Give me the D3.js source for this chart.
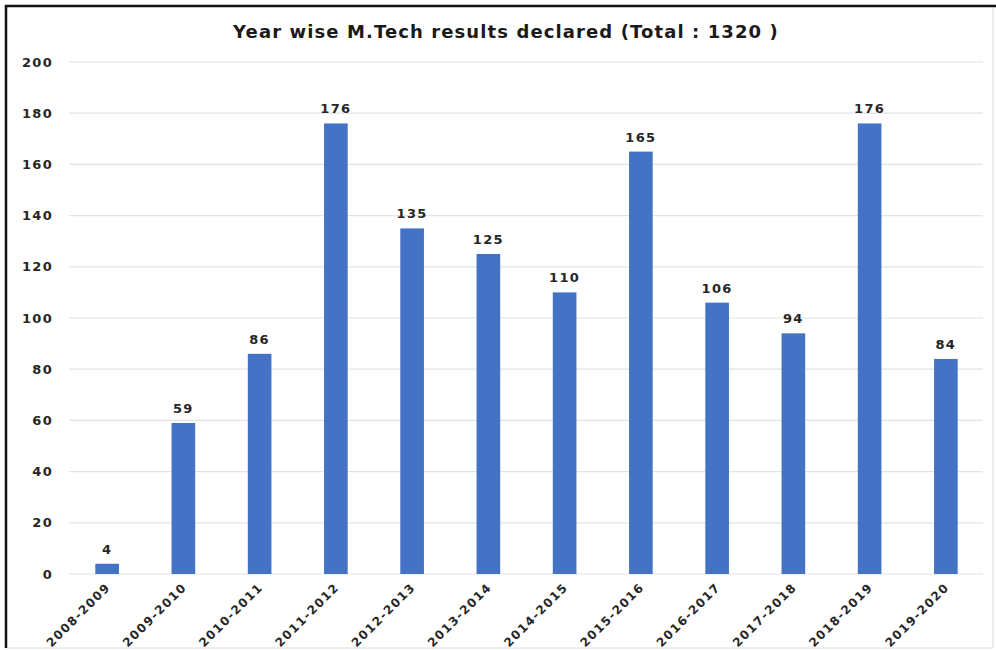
<!DOCTYPE html>
<html>
<head>
<meta charset="utf-8">
<script src="https://cdn.jsdelivr.net/npm/d3@7"></script>
<style>
  body { margin: 0; background: #fff; }
  text { font-family: "DejaVu Sans", sans-serif; font-weight: bold; }
</style>
</head>
<body>
<div id="chart"></div>
<script>
const years = ['2008-2009', '2009-2010', '2010-2011', '2011-2012', '2012-2013', '2013-2014',
  '2014-2015', '2015-2016', '2016-2017', '2017-2018', '2018-2019', '2019-2020']
const results = [4, 59, 86, 176, 135, 125, 110, 165, 106, 94, 176, 84]
const yTicks = [0, 20, 40, 60, 80, 100, 120, 140, 160, 180, 200]
const title = 'Year wise M.Tech results declared (Total : 1320 )'

const W = 996, H = 650
const margin = { top: 62, right: 12, bottom: 76, left: 69 }
const width = W - margin.left - margin.right
const height = H - margin.top - margin.bottom

const svg = d3.select('#chart').append('svg')
  .attr('width', W)
  .attr('height', H)

// frame
svg.append('rect')
  .attr('x', 6).attr('y', 6)
  .attr('width', 987).attr('height', 642)
  .attr('fill', 'none')
  .attr('stroke', '#ddd')
svg.append('path')
  .attr('d', 'M6,648V6H996')
  .attr('fill', 'none')
  .attr('stroke', '#111')
  .attr('stroke-width', 2.5)

svg.append('text')
  .attr('x', 506)
  .attr('y', 38)
  .attr('text-anchor', 'middle')
  .attr('font-size', 18)
  .attr('letter-spacing', 1.1)
  .attr('fill', '#1a1a1a')
  .text(title)

const g = svg.append('g')
  .attr('transform', `translate(${margin.left},${margin.top})`)

const x = d3.scaleBand()
  .domain(years)
  .range([0, width])
  .paddingInner(0.69)
  .paddingOuter(0.345)

const y = d3.scaleLinear()
  .domain([0, 200])
  .range([height, 0])

// grid
g.append('g')
  .selectAll('line')
  .data(yTicks)
  .enter()
  .append('line')
  .attr('x1', 0)
  .attr('x2', width - 1)
  .attr('y1', d => y(d))
  .attr('y2', d => y(d))
  .attr('stroke', '#e3e3e3')
  .attr('stroke-width', 1.2)

const yAxis = g.append('g')
  .call(d3.axisLeft(y).tickValues(yTicks).tickSize(0).tickPadding(16))
yAxis.select('.domain').remove()
yAxis.selectAll('text')
  .attr('font-size', 13)
  .attr('letter-spacing', 1.3)
  .attr('fill', '#262626')
  .attr('font-family', '"DejaVu Sans", sans-serif')
  .attr('font-weight', 'bold')

const xAxis = g.append('g')
  .attr('transform', `translate(0,${height})`)
  .call(d3.axisBottom(x).tickSize(0))
xAxis.select('.domain').remove()
xAxis.selectAll('text')
  .attr('font-size', 12)
  .attr('letter-spacing', 1.4)
  .attr('fill', '#262626')
  .attr('font-family', '"DejaVu Sans", sans-serif')
  .attr('font-weight', 'bold')
  .attr('text-anchor', 'end')
  .attr('dy', null)
  .attr('y', 0)
  .attr('transform', 'translate(4,14) rotate(-45)')

g.selectAll('.bar')
  .data(results)
  .enter()
  .append('rect')
  .attr('class', 'bar')
  .attr('x', (d, i) => x(years[i]))
  .attr('y', d => y(d))
  .attr('width', x.bandwidth())
  .attr('height', d => height - y(d))
  .attr('fill', '#4472c4')

g.selectAll('.lbl')
  .data(results)
  .enter()
  .append('text')
  .attr('class', 'lbl')
  .attr('x', (d, i) => x(years[i]) + x.bandwidth() / 2)
  .attr('y', d => y(d) - 10)
  .attr('text-anchor', 'middle')
  .attr('font-size', 13)
  .attr('letter-spacing', 1.3)
  .attr('fill', '#262626')
  .text(d => d)
</script>
</body>
</html>
